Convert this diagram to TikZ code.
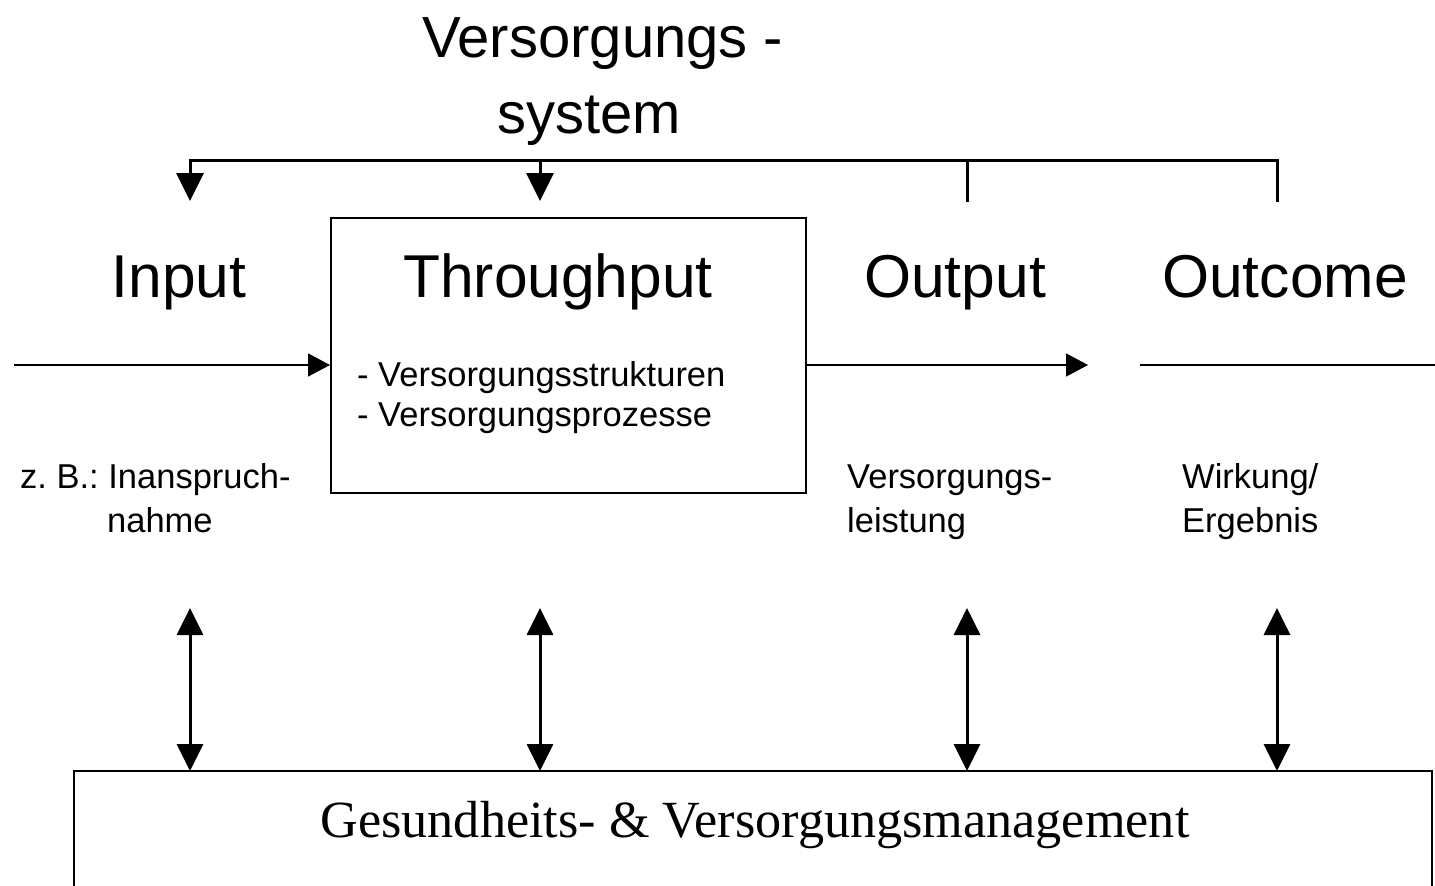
\documentclass[tikz,border=0pt]{standalone}
\usepackage{fontspec}
\setmainfont{Liberation Sans}
\newfontfamily\serifface{Liberation Serif}
\usetikzlibrary{arrows.meta}
\frenchspacing
\begin{document}
\begin{tikzpicture}[x=1pt,y=-1pt,
  big/.style={font=\fontsize{60.5}{70}\selectfont, inner sep=0pt, anchor=base},
  note/.style={font=\fontsize{34.5}{40}\selectfont, inner sep=0pt, anchor=base west},
  heavy/.style={line width=3pt},
  thin/.style={line width=1.6pt},
  downtip/.style={-{Triangle[length=28pt,width=27pt]}},
  flowtip/.style={-{Triangle[length=22pt,width=23pt]}},
  bothtip/.style={{Triangle[length=27pt,width=26pt]}-{Triangle[length=27pt,width=26pt]}},
]
\useasboundingbox (0,0) rectangle (1435,886);

% title
\node[big, font=\fontsize{58}{70}\selectfont, anchor=base west] (title1) at (422,57) {Versorgungs -};
\node[big, font=\fontsize{58}{70}\selectfont, anchor=base west] (title2) at (497,133) {system};

% bracket from the supply system to input and throughput
\coordinate (top1) at (190,160);
\coordinate (top2) at (540,160);
\coordinate (top3) at (967,160);
\coordinate (top4) at (1277,160);
\coordinate (arr1) at (190,201);
\coordinate (arr2) at (540,201);
\coordinate (tick3) at (967,202);
\coordinate (tick4) at (1277,202);
\draw[heavy, downtip] (tick4) -- (top4) -- (top1) -- (arr1);
\draw[heavy, downtip] (top2) -- (arr2);
\draw[heavy] (top3) -- (tick3);

% stage headings
\node[big] (input) at (179,297) {Input};
\node[big] (through) at (558,297) {Throughput};
\node[big] (output) at (955,297) {Output};
\node[big] (outcome) at (1285,297) {Outcome};

% throughput box
\node[draw, line width=2pt, minimum width=475pt, minimum height=275pt, inner sep=0pt] (tp) at (568.5,355.5) {};
\node[note] (tp1) at (357,386) {- Versorgungsstrukturen};
\node[note] (tp2) at (357,426) {- Versorgungsprozesse};

% main flow line
\coordinate (flowstart) at (14,365);
\coordinate (flowend) at (1088,365);
\coordinate (oc1) at (1140,365);
\coordinate (oc2) at (1435,365);
\draw[thin, flowtip] (flowstart) -- (flowstart -| tp.west);
\draw[thin, flowtip] (tp.east |- flowend) -- (flowend);
\draw[thin] (oc1) -- (oc2);

% stage notes
\node[note] (in1) at (20,488) {z. B.: Inanspruch-};
\node[note] (in2) at (107,532) {nahme};
\node[note] (out1) at (847,488) {Versorgungs-};
\node[note] (out2) at (847,532) {leistung};
\node[note] (oc1t) at (1182,488) {Wirkung/};
\node[note] (oc2t) at (1182,532) {Ergebnis};

% management box (open at the bottom)
\node[minimum width=1358pt, minimum height=115pt, inner sep=0pt, outer sep=0pt] (mg) at (753,828.5) {};
\draw[line width=2.5pt] (mg.south west) |- (mg.north east) -- (mg.south east);
\node[font=\serifface\fontsize{52.2}{60}\selectfont, inner sep=0pt, anchor=base] (mgtext) at (755,837) {Gesundheits- \& Versorgungsmanagement};

% links between the stages and management
\coordinate (d1) at (190,608);
\coordinate (d2) at (540,608);
\coordinate (d3) at (967,608);
\coordinate (d4) at (1277,608);
\foreach \d in {d1,d2,d3,d4}
  \draw[heavy, bothtip] (\d) -- (\d |- mg.north);
\end{tikzpicture}
\end{document}
